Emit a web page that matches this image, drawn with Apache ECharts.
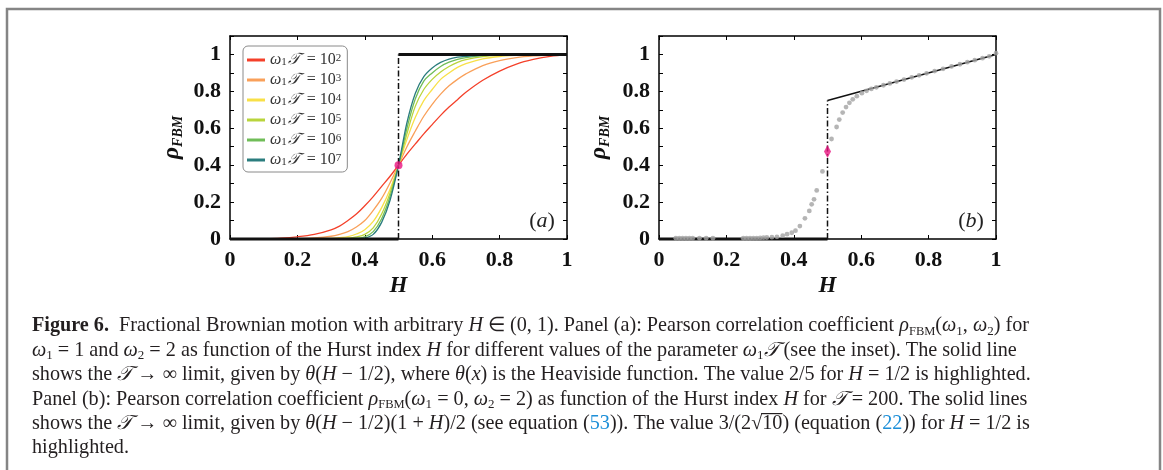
<!DOCTYPE html>
<html><head><meta charset="utf-8">
<script src="https://cdn.jsdelivr.net/npm/echarts@6/dist/echarts.min.js"></script>
<style>html,body{margin:0;padding:0;background:#fff}#c{width:1163px;height:470px}</style>
</head><body><div id="c"></div><script>
// ---------- data: panel (a) ----------
const H_A = [0,0.05,0.1,0.15,0.2,0.25,0.3,0.325,0.35,0.375,0.4,0.425,0.45,0.475,0.5,0.525,0.55,0.575,0.6,0.625,0.65,0.675,0.7,0.75,0.8,0.85,0.9,0.95,1];
const RHO_T1E2 = [0,0.0005,0.002,0.005,0.012,0.025,0.05,0.07,0.10,0.135,0.18,0.23,0.285,0.34,0.40,0.46,0.515,0.57,0.62,0.67,0.715,0.755,0.795,0.86,0.91,0.948,0.973,0.99,0.998];
const RHO_T1E3 = [0,0,0,0.0005,0.002,0.006,0.015,0.025,0.04,0.065,0.10,0.155,0.22,0.305,0.40,0.50,0.585,0.665,0.73,0.785,0.83,0.865,0.895,0.94,0.967,0.983,0.992,0.997,1];
const RHO_T1E4 = [0,0,0,0,0,0.001,0.003,0.007,0.013,0.027,0.05,0.095,0.17,0.27,0.40,0.54,0.66,0.75,0.81,0.865,0.90,0.93,0.95,0.976,0.989,0.995,0.998,1,1];
const RHO_T1E5 = [0,0,0,0,0,0,0.001,0.002,0.004,0.011,0.025,0.06,0.135,0.25,0.40,0.57,0.72,0.81,0.865,0.905,0.935,0.957,0.972,0.988,0.995,0.998,1,1,1];
const RHO_T1E6 = [0,0,0,0,0,0,0,0.0005,0.001,0.004,0.012,0.04,0.11,0.23,0.40,0.60,0.76,0.855,0.90,0.935,0.958,0.973,0.983,0.994,0.998,1,1,1,1];
const RHO_T1E7 = [0,0,0,0,0,0,0,0,0,0.001,0.005,0.025,0.09,0.21,0.40,0.63,0.79,0.88,0.927,0.957,0.975,0.985,0.99,0.997,1,1,1,1,1];
const LEGEND_EXP = ['2','3','4','5','6','7'];
const LIMIT_A_LOW = [[0,0],[0.5,0]];
const LIMIT_A_HIGH = [[0.5,1],[1,1]];
const JUMP_A = [[0.5,0],[0.5,1]];
const HIGHLIGHT_A = [[0.5,0.4]];
// ---------- data: panel (b) ----------
const H_B = [0.05,0.06,0.07,0.08,0.09,0.10,0.12,0.14,0.16,0.25,0.26,0.27,0.28,0.29,0.30,0.31,0.32,0.335,0.35,0.367,0.38,0.394,0.405,0.418,0.433,0.446,0.453,0.46,0.468,0.485,0.512,0.527,0.535,0.545,0.555,0.565,0.575,0.587,0.602,0.616,0.63,0.645,0.666,0.685,0.705,0.727,0.75,0.772,0.794,0.818,0.843,0.868,0.893,0.915,0.937,0.96,0.98,1.0];
const RHO_B = [0.004,0.004,0.004,0.004,0.004,0.004,0.004,0.004,0.004,0.004,0.004,0.004,0.005,0.005,0.006,0.007,0.008,0.01,0.012,0.018,0.026,0.034,0.045,0.07,0.112,0.152,0.188,0.215,0.263,0.366,0.542,0.607,0.647,0.685,0.715,0.738,0.757,0.774,0.79,0.803,0.813,0.822,0.833,0.843,0.853,0.864,0.876,0.887,0.898,0.91,0.922,0.935,0.947,0.958,0.969,0.98,0.99,1.007];
const LIMIT_B_LOW = [[0,0],[0.5,0]];
const LIMIT_B_HIGH = [[0.5,0.75],[1,1]];
const JUMP_B = [[0.5,0],[0.5,0.75]];
const HIGHLIGHT_B = [[0.5,0.4743]];

// ---------- styles ----------
const CURVES = [RHO_T1E2,RHO_T1E3,RHO_T1E4,RHO_T1E5,RHO_T1E6,RHO_T1E7];
const COLORS = ['#f4402a','#f9a05a','#f8e048','#b9d43c','#70bd58','#2b7d7e'];
const SERIF = 'Liberation Serif';
const TICKF = {fontFamily:SERIF,fontWeight:'bold',fontSize:22,color:'#111'};

const chart = echarts.init(document.getElementById('c'),null,{renderer:'canvas'});
const GRIDS = [{left:230,top:36,width:337,height:203},{left:659,top:36,width:337,height:203}];

function xAx(g, pos){
  return {gridIndex:g,type:'value',position:pos,min:0,max:1,interval:0.2,
    axisLine:{show:true,onZero:false,lineStyle:{color:'#000',width:1.5}},
    axisTick:{show:true,inside:true,length:4,lineStyle:{color:'#000',width:1}},
    axisLabel:{show:pos==='bottom',margin:10,...TICKF,
      formatter:v=>{const k=Math.round(v*10);return k===0?'0':k===10?'1':(k/10).toFixed(1);}},
    splitLine:{show:false},
    name:pos==='bottom'?'H':'',nameLocation:'middle',nameGap:36,
    nameTextStyle:{fontFamily:SERIF,fontStyle:'italic',fontWeight:'bold',fontSize:23,color:'#111'}};
}
function yAx(g, pos){
  return {gridIndex:g,type:'value',position:pos,min:0,max:1.1,interval:0.1,
    axisLine:{show:true,onZero:false,lineStyle:{color:'#000',width:1.5}},
    axisTick:{show:true,inside:true,length:4,lineStyle:{color:'#000',width:1}},
    axisLabel:{show:pos==='left',margin:9,...TICKF,
      formatter:v=>{const k=Math.round(v*10);if(k%2!==0||k>10)return '';return k===0?'0':k===10?'1':(k/10).toFixed(1);}},
    splitLine:{show:false},
    name:pos==='left'?'{r|ρ}{s|FBM}':'',nameLocation:'middle',nameGap:g===0?45:47,
    nameTextStyle:{rich:{
      r:{fontFamily:SERIF,fontStyle:'italic',fontWeight:'bold',fontSize:24,color:'#111',lineHeight:26,verticalAlign:'middle'},
      s:{fontFamily:SERIF,fontStyle:'italic',fontWeight:'bold',fontSize:14,color:'#111',lineHeight:14,verticalAlign:'bottom'}}}};
}
// axis indices: grid0 -> x/y 0 (bottom/left), 1 (top/right); grid1 -> 2, 3
const series = [];
CURVES.forEach((arr,i)=>{
  series.push({name:'w'+LEGEND_EXP[i],type:'line',xAxisIndex:0,yAxisIndex:0,
    data:H_A.map((h,j)=>[h,arr[j]]),showSymbol:false,smooth:0.35,
    lineStyle:{color:COLORS[i],width:1.3},itemStyle:{color:COLORS[i]},z:2});
});
const blk=(ai,data,w,type,z)=>({type:'line',xAxisIndex:ai,yAxisIndex:ai,data,showSymbol:false,clip:false,
  lineStyle:{color:'#111',width:w,type:type||'solid'},z:z||3,silent:true});
const DASHDOT=[6,2.5,1.5,2.5];
series.push(blk(0,LIMIT_A_LOW,3),blk(0,LIMIT_A_HIGH,3),blk(0,JUMP_A,1.5,DASHDOT));
series.push({type:'scatter',xAxisIndex:0,yAxisIndex:0,data:HIGHLIGHT_A,symbol:'circle',symbolSize:8,
  itemStyle:{color:'#e8147f'},z:6});
series.push(blk(2,LIMIT_B_LOW,3),blk(2,LIMIT_B_HIGH,1.6),blk(2,JUMP_B,1.5,DASHDOT));
series.push({type:'scatter',xAxisIndex:2,yAxisIndex:2,data:H_B.map((h,j)=>[h,RHO_B[j]]),symbolSize:4.8,
  itemStyle:{color:'#a2a2a2'},z:4,clip:false});
series.push({type:'scatter',xAxisIndex:2,yAxisIndex:2,data:HIGHLIGHT_B,symbol:'diamond',symbolSize:[7,13],
  itemStyle:{color:'#e8147f'},z:6});

const LR = {fontFamily:SERIF,fontSize:16,color:'#333',lineHeight:15};
chart.setOption({
  animation:false,
  grid:GRIDS,
  xAxis:[xAx(0,'bottom'),xAx(0,'top'),xAx(1,'bottom'),xAx(1,'top')],
  yAxis:[yAx(0,'left'),yAx(0,'right'),yAx(1,'left'),yAx(1,'right')],
  legend:{orient:'vertical',left:243,top:46,padding:[6,6,4,4],itemGap:4,itemWidth:18,itemHeight:3,icon:'rect',
    borderColor:'#8a8a8a',borderWidth:1,borderRadius:5,backgroundColor:'#fff',
    data:LEGEND_EXP.map(e=>'w'+e),
    formatter:name=>'{i|ω}{s|1}{t|𝒯}{n| = 10}{p|'+name.slice(1)+'}',
    textStyle:{rich:{
      i:{...LR,fontStyle:'italic',verticalAlign:'middle'},
      s:{...LR,fontSize:11,lineHeight:10,verticalAlign:'bottom'},
      t:{...LR,fontStyle:'italic',verticalAlign:'middle',padding:[0,3,0,1]},
      n:{...LR,verticalAlign:'middle'},
      p:{...LR,fontSize:11,lineHeight:10,verticalAlign:'top'}}}},
  series
});

// ---------- text annotations ----------
const pa = chart.convertToPixel({gridIndex:0},[0.926,0.098]);
const pb = chart.convertToPixel({gridIndex:1},[0.926,0.098]);
const PL = {fontFamily:SERIF,fontSize:22,fill:'#222',lineHeight:24,verticalAlign:'middle'};
const panelLbl=(p,l)=>({type:'text',z:10,style:{x:p[0],y:p[1],align:'center',verticalAlign:'middle',
  text:'{n|(}{i|'+l+'}{n|)}',rich:{n:PL,i:{...PL,fontStyle:'italic'}}}});

const FS=20.2, CC='#231f20';
const CR = {
  n:{fontFamily:SERIF,fontSize:FS,fill:CC,lineHeight:24,verticalAlign:'middle'},
  b:{fontFamily:SERIF,fontSize:FS,fontWeight:'bold',fill:CC,lineHeight:24,verticalAlign:'middle'},
  i:{fontFamily:SERIF,fontSize:FS,fontStyle:'italic',fill:CC,lineHeight:24,verticalAlign:'middle'},
  s:{fontFamily:SERIF,fontSize:13,fill:CC,lineHeight:14,verticalAlign:'bottom'},
  f:{fontFamily:SERIF,fontSize:12.5,fill:CC,lineHeight:13,verticalAlign:'bottom'},
  l:{fontFamily:SERIF,fontSize:FS,fill:'#1d8fd8',lineHeight:24,verticalAlign:'middle'}
};
const CAPTION = [
  [['b','Figure 6.'],['n','  Fractional Brownian motion with arbitrary '],['i','H'],['n',' ∈ (0, 1). Panel (a): Pearson correlation coefficient '],['i','ρ'],['f','FBM'],['n','('],['i','ω'],['s','1'],['n',', '],['i','ω'],['s','2'],['n',') for']],
  [['i','ω'],['s','1'],['n',' = 1 and '],['i','ω'],['s','2'],['n',' = 2 as function of the Hurst index '],['i','H'],['n',' for different values of the parameter '],['i','ω'],['s','1'],['i','𝒯'],['n',' (see the inset). The solid line']],
  [['n','shows the '],['i','𝒯'],['n',' → ∞ limit, given by '],['i','θ'],['n','('],['i','H'],['n',' − 1/2), where '],['i','θ'],['n','('],['i','x'],['n',') is the Heaviside function. The value 2/5 for '],['i','H'],['n',' = 1/2 is highlighted.']],
  [['n','Panel (b): Pearson correlation coefficient '],['i','ρ'],['f','FBM'],['n','('],['i','ω'],['s','1'],['n',' = 0, '],['i','ω'],['s','2'],['n',' = 2) as function of the Hurst index '],['i','H'],['n',' for '],['i','𝒯'],['n',' = 200. The solid lines']],
  [['n','shows the '],['i','𝒯'],['n',' → ∞ limit, given by '],['i','θ'],['n','('],['i','H'],['n',' − 1/2)(1 + '],['i','H'],['n',')/2 (see equation ('],['l','53'],['n','))'],['n','. The value 3/(2√'],['n','10'],['n',') (equation ('],['l','22'],['n','))'],['n',' for '],['i','H'],['n',' = 1/2 is']],
  [['n','highlighted.']]
];
const CX=32, CY0=326, CDY=24.4;
const graphics=[
  {type:'rect',z:0,shape:{x:7,y:9,width:1153,height:480},style:{fill:'none',stroke:'#858585',lineWidth:2.5}},
  panelLbl(pa,'a'),panelLbl(pb,'b')];
CAPTION.forEach((line,k)=>{
  graphics.push({type:'text',z:10,style:{x:CX,y:CY0+k*CDY,verticalAlign:'middle',align:'left',
    text:line.map(t=>'{'+t[0]+'|'+t[1]+'}').join(''),rich:CR}});
});
// overbar of the square root in line 5
const ctx=document.createElement('canvas').getContext('2d');
const fontOf=st=>(st.fontStyle||'normal')+' '+(st.fontWeight||'normal')+' '+st.fontSize+'px '+st.fontFamily;
let xx=CX, x10=0, w10=0;
const L5=CAPTION[4];
for(let j=0;j<L5.length;j++){ctx.font=fontOf(CR[L5[j][0]]);const w=ctx.measureText(L5[j][1]).width;
  if(L5[j][1]==='10'){x10=xx;w10=w;} xx+=w;}
const yb=CY0+4*CDY-10;
graphics.push({type:'line',z:10,shape:{x1:x10-1,y1:yb,x2:x10+w10,y2:yb},style:{stroke:CC,lineWidth:1.2}});
chart.setOption({graphic:graphics});
</script></body></html>
